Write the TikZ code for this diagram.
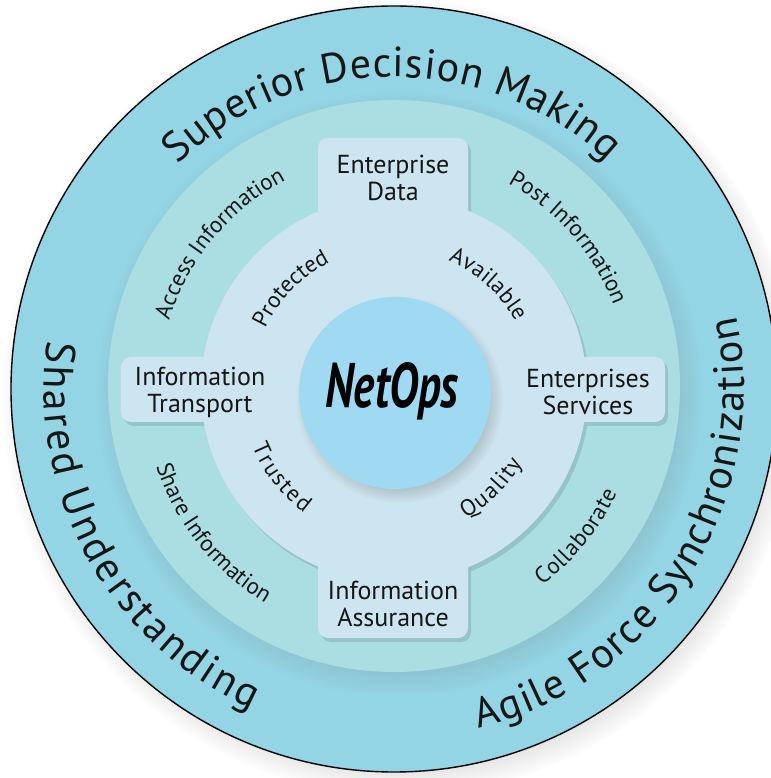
\documentclass[tikz,border=0pt]{standalone}
\usepackage{fontspec}
\setmainfont{PT Sans}
\usetikzlibrary{decorations.text,shadows,fadings}

\definecolor{outerblue}{RGB}{147,213,229}
\definecolor{midteal}{RGB}{171,222,227}
\definecolor{innerblue}{RGB}{205,229,240}
\definecolor{coreblue}{RGB}{159,218,242}
\definecolor{ink}{RGB}{22,22,22}

\newcommand{\ringbig}{\fontsize{42}{44}\selectfont}
\newcommand{\ringsmall}{\fontsize{23}{25}\selectfont}
\newcommand{\tabfont}{\fontsize{26}{27}\selectfont}

\tikzset{
  arctext/.style={decorate,decoration={text along path,text align={fit to path},text color=ink,text={#1}}},
  tabnode/.style={align=center,font=\tabfont,text=ink,inner sep=0pt},
}

\begin{document}
\begin{tikzpicture}[x=1pt,y=1pt]
\useasboundingbox (-394,-389) rectangle (376,389);

%%%%%%%%%%%%%%%%%%%%%%%%%%%%%%%%%%%%%%%%%%%%%%%%%%%%%%%%%%%%%%%%%
% rings
\fill [outerblue,circular drop shadow={shadow xshift=6pt,shadow yshift=-8pt,shadow scale=1.04,opacity=0.45}] (0,0) circle (383);
\draw [line width=1.4pt] (0,0) circle (383);

\fill [midteal,circular drop shadow={shadow xshift=5pt,shadow yshift=-7pt,shadow scale=1.06,opacity=0.35}] (0,3) circle (286);

% cross shadow
\begin{scope}[transparency group,opacity=0.12,shift={(3,-4)}]
\fill [black] (0,0) circle (193);
\fill [black,rounded corners=10pt] (-76,-249) rectangle (74,251);
\fill [black,rounded corners=10pt] (-273,-33) rectangle (271,32);
\end{scope}

% cross
\fill [innerblue] (0,0) circle (193);
\fill [innerblue,rounded corners=10pt] (-76,-249) rectangle (74,251);
\fill [innerblue,rounded corners=10pt] (-273,-33) rectangle (271,32);

% core
\fill [coreblue,circular drop shadow={shadow xshift=4pt,shadow yshift=-6pt,shadow scale=1.08,opacity=0.35}] (1,-4) circle (96);

%%%%%%%%%%%%%%%%%%%%%%%%%%%%%%%%%%%%%%%%%%%%%%%%%%%%%%%%%%%%%%%%%
\node [anchor=base] (netops) at (-2,-19){\scalebox{0.71}[1]{\fontsize{63}{63}\selectfont\bfseries\itshape NetOps}};

\node [tabnode] (entdata) at (-1,211){Enterprise\\Data};
\node [tabnode] (infoassur) at (-1,-215){Information\\Assurance};
\node [tabnode] (infotrans) at (-194,-3){Information\\Transport};
\node [tabnode] (entserv) at (194,-3){Enterprises\\Services};

%%%%%%%%%%%%%%%%%%%%%%%%%%%%%%%%%%%%%%%%%%%%%%%%%%%%%%%%%%%%%%%%%
% outer ring
\path [arctext={|\ringbig|Superior Decision Making}] (134:312) arc [start angle=134,end angle=47,radius=312];
\path [arctext={|\ringbig|Shared Understanding}] (172:350) arc [start angle=172,end angle=246,radius=350];
\path [arctext={|\ringbig|Agile Force Synchronization}] (-76:350) arc [start angle=-76,end angle=12,radius=350];

% middle ring
\path [arctext={|\ringsmall|Access Information}] (163:235) arc [start angle=163,end angle=118,radius=235];
\path [arctext={|\ringsmall|Post Information}] (61:235) arc [start angle=61,end angle=21,radius=235];
\path [arctext={|\ringsmall|Share Information}] (198:250) arc [start angle=198,end angle=239,radius=250];
\path [arctext={|\ringsmall|Collaborate}] (-53:246) arc [start angle=-53,end angle=-25,radius=246];

% inner ring
\path [arctext={|\ringsmall|Protected}] (155:142) arc [start angle=155,end angle=118,radius=142];
\path [arctext={|\ringsmall|Available}] (67:139) arc [start angle=67,end angle=29,radius=139];
\path [arctext={|\ringsmall|Trusted}] (202:153) arc [start angle=202,end angle=234,radius=153];
\path [arctext={|\ringsmall|Quality}] (-61:148) arc [start angle=-61,end angle=-30,radius=148];

\end{tikzpicture}
\end{document}
